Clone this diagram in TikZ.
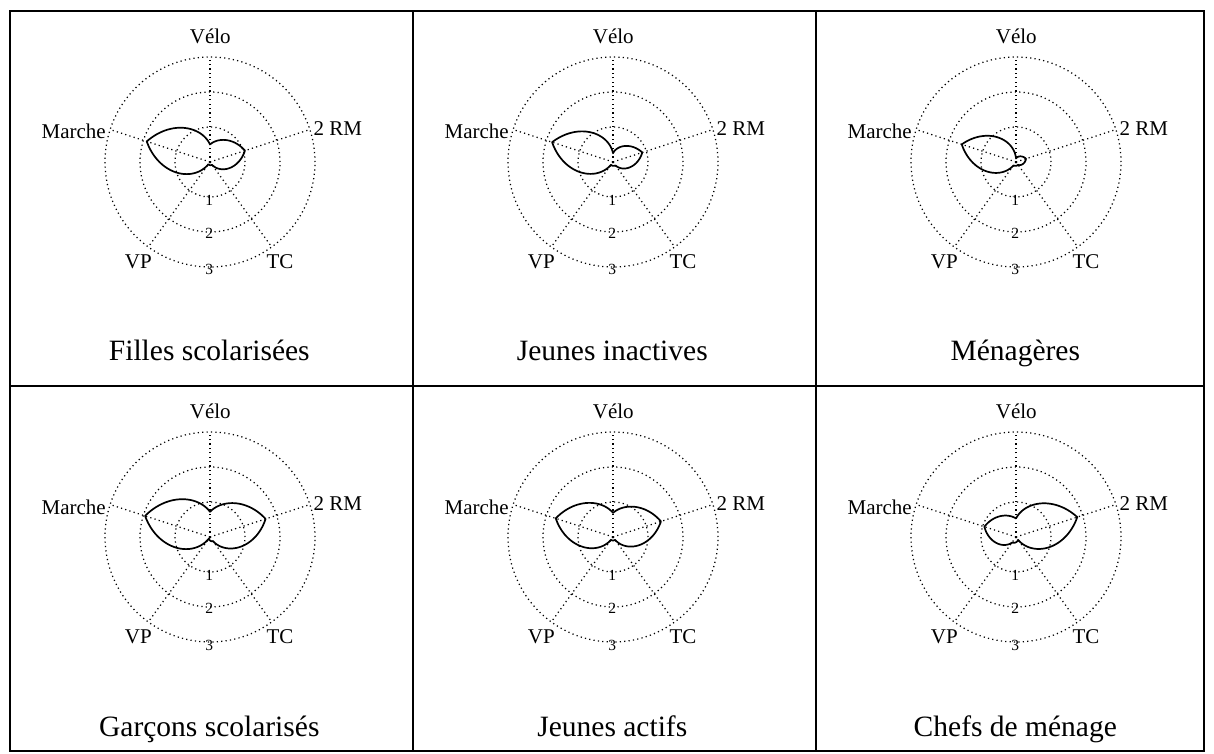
\documentclass[tikz,border=0pt]{standalone}
\usepackage{fontspec}
\setmainfont{Liberation Serif}
\tikzset{
  frameline/.style={line width=2pt,black},
  gridline/.style={line width=1.25pt,black,dash pattern=on 1.2pt off 3.2pt},
  curveline/.style={line width=1.7pt,black,line join=round},
  axlab/.style={inner sep=0pt,font=\fontsize{21}{22}\selectfont},
  numlab/.style={inner sep=0pt,font=\fontsize{15.5}{16}\selectfont},
  titlelab/.style={inner sep=0pt,font=\fontsize{29.5}{32}\selectfont},
}
% #1 name prefix, #2 cx, #3 cy, #4 title, #5 Velo, #6 2RM, #7 TC, #8 VP, #9 Marche
\newcommand\radarpanel[9]{%
\begin{scope}[shift={(#2,#3)}]
  \coordinate (#1c) at (0,0);
  \foreach \rr in {35,70,105} \draw[gridline] (#1c) circle (\rr pt);
  \foreach \aa in {90,18,-54,-126,162} \draw[gridline] (#1c) -- (\aa:105pt);
  \draw[curveline]
    plot[domain=90:18,samples=40] (\x:{35*(#5+(#6-#5)*(90-\x)/72)})
    -- plot[domain=18:-54,samples=40] (\x:{35*(#6+(#7-#6)*(18-\x)/72)})
    -- plot[domain=-54:-126,samples=40] (\x:{35*(#7+(#8-#7)*(-54-\x)/72)})
    -- plot[domain=-126:-198,samples=40] (\x:{35*(#8+(#9-#8)*(-126-\x)/72)})
    -- plot[domain=162:90,samples=40] (\x:{35*(#9+(#5-#9)*(162-\x)/72)})
    -- cycle;
  \node[axlab,anchor=base] (#1velo) at (0.3,118.7) {Vélo};
  \node[axlab,anchor=base west] (#1rm) at (103.3,26.3) {2 RM};
  \node[axlab,anchor=base east] (#1marche) at (-104,23) {Marche};
  \node[axlab,anchor=base] (#1vp) at (-71.7,-106.3) {VP};
  \node[axlab,anchor=base] (#1tc) at (70,-106.3) {TC};
  \node[numlab,anchor=base] (#1one) at (-0.7,-43.7) {1};
  \node[numlab,anchor=base] (#1two) at (-0.7,-76.3) {2};
  \node[numlab,anchor=base] (#1three) at (-0.7,-113) {3};
  \node[titlelab,anchor=base] (#1title) at (-0.7,-199) {#4};
\end{scope}}
\begin{document}
\begin{tikzpicture}[x=1pt,y=1pt]
\useasboundingbox (0,0) rectangle (1214,753);
\draw[frameline] (10,742.3) rectangle (1203.5,2);
\draw[frameline] (412.5,742.3) -- (412.5,2);
\draw[frameline] (815.5,742.3) -- (815.5,2);
\draw[frameline] (10,367) -- (1203.5,367);
\radarpanel{pa}{210}{591}{Filles scolarisées}{0.5}{1.05}{0.1}{0.08}{1.9}
\radarpanel{pb}{613}{591}{Jeunes inactives}{0.25}{0.88}{0.12}{0.1}{1.83}
\radarpanel{pc}{1016}{591}{Ménagères}{0.1}{0.3}{0.1}{0.12}{1.63}
\radarpanel{pd}{210}{216}{Garçons scolarisés}{0.72}{1.67}{0.15}{0.05}{1.95}
\radarpanel{pe}{613}{216}{Jeunes actifs}{0.69}{1.44}{0.1}{0.1}{1.72}
\radarpanel{pf}{1016}{216}{Chefs de ménage}{0.53}{1.84}{0.1}{0.2}{0.95}
\end{tikzpicture}
\end{document}
